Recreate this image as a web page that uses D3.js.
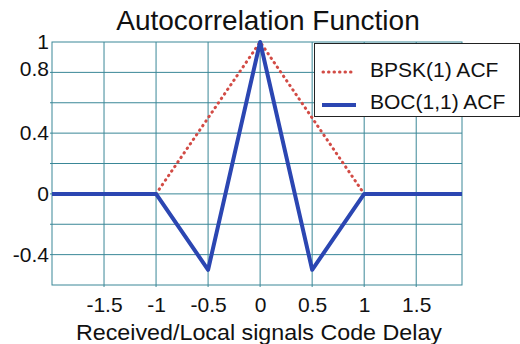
<!DOCTYPE html>
<html>
<head>
<meta charset="utf-8">
<script src="https://cdn.jsdelivr.net/npm/d3@7"></script>
<style>
  body { margin: 0; background: #fff; }
  text { font-family: "Liberation Sans", Arial, sans-serif; fill: #111; }
</style>
</head>
<body>
<script>
// data
var bpskX = [-1, 0, 1];
var bpskY = [0, 1, 0];
var bocX = [-2, -1, -0.5, 0, 0.5, 1, 1.94];
var bocY = [0, 0, -0.5, 1, -0.5, 0, 0];
var xTicks = [-1.5, -1, -0.5, 0, 0.5, 1, 1.5];
var xGrid = [-1.5, -1, -0.5, 0, 0.5, 1, 1.5];
var yTicks = [1, 0.8, 0.4, 0, -0.4];
var yGrid = [-0.4, -0.2, 0, 0.2, 0.4, 0.6, 0.8];
var seriesNames = ['BPSK(1) ACF', 'BOC(1,1) ACF'];

var margin = { top: 42, bottom: 59, left: 52, right: 58 };
var width = 520 - margin.left - margin.right;
var height = 344 - margin.top - margin.bottom;

let svg = d3.select('body').append('svg')
    .attr('width', 520)
    .attr('height', 344);

let g = svg.append('g')
    .attr('transform', 'translate(' + margin.left + ',' + margin.top + ')');

let xScale = d3.scaleLinear()
    .domain([-2, 1.94])
    .range([0, width]);

let yScale = d3.scaleLinear()
    .domain([-0.6, 1])
    .range([height, 0]);

var gridColor = '#3a8797';

// grid
xGrid.forEach(function (v) {
    g.append('line')
        .attr('x1', xScale(v)).attr('x2', xScale(v))
        .attr('y1', 0).attr('y2', height + 2)
        .style('stroke', gridColor).attr('stroke-width', 1);
});
yGrid.forEach(function (v) {
    g.append('line')
        .attr('x1', -2).attr('x2', width)
        .attr('y1', yScale(v)).attr('y2', yScale(v))
        .style('stroke', gridColor).attr('stroke-width', 1);
});

// frame
g.append('rect')
    .attr('width', width).attr('height', height)
    .attr('fill', 'none')
    .style('stroke', gridColor).attr('stroke-width', 1);

// axes (labels only)
var fmt = function (d) { return String(d); };
let xAxis = d3.axisBottom(xScale).tickValues(xTicks).tickSize(0).tickPadding(12)
    .tickFormat(fmt);
let yAxis = d3.axisLeft(yScale).tickValues(yTicks).tickSize(0).tickPadding(3)
    .tickFormat(fmt);

let xa = g.append('g')
    .attr('transform', 'translate(0,' + height + ')')
    .call(xAxis);
let ya = g.append('g').call(yAxis);
[xa, ya].forEach(function (a) {
    a.select('.domain').remove();
    a.selectAll('text').style('font-size', '21px').style('font-family', '"Liberation Sans", Arial, sans-serif').attr('fill', '#111');
});
// 0.8 label sits a bit higher to clear the 1
ya.selectAll('.tick text').filter(function (d) { return d === 0.8; }).attr('y', -4);

let line = d3.line()
    .x(function (d) { return xScale(d[0]); })
    .y(function (d) { return yScale(d[1]); });

g.append('path')
    .datum(d3.zip(bpskX, bpskY))
    .attr('d', line)
    .attr('fill', 'none')
    .style('stroke', '#d24b45')
    .attr('stroke-width', 3)
    .attr('stroke-linecap', 'round')
    .attr('stroke-dasharray', '0.5,5');

g.append('path')
    .datum(d3.zip(bocX, bocY))
    .attr('d', line)
    .attr('fill', 'none')
    .style('stroke', '#2b46b2')
    .attr('stroke-width', 4)
    .attr('stroke-linejoin', 'round');

// title
svg.append('text')
    .attr('x', 268).attr('y', 30)
    .attr('text-anchor', 'middle')
    .style('font-size', '28px')
    .text('Autocorrelation Function');

// x label
svg.append('text')
    .attr('x', 259).attr('y', 340)
    .attr('text-anchor', 'middle')
    .attr('textLength', 366)
    .attr('lengthAdjust', 'spacingAndGlyphs')
    .style('font-size', '22px')
    .text('Received/Local signals Code Delay');

// legend
let lg = svg.append('g');
lg.append('rect')
    .attr('x', 314.5).attr('y', 43.5)
    .attr('width', 205).attr('height', 73)
    .attr('fill', '#fff')
    .style('stroke', '#222').attr('stroke-width', 1);
lg.append('line')
    .attr('x1', 323).attr('x2', 355).attr('y1', 72).attr('y2', 72)
    .style('stroke', '#d24b45').attr('stroke-width', 3)
    .attr('stroke-linecap', 'round')
    .attr('stroke-dasharray', '0.5,5');
lg.append('line')
    .attr('x1', 322).attr('x2', 356).attr('y1', 105).attr('y2', 105)
    .style('stroke', '#2b46b2').attr('stroke-width', 4);
lg.append('text').attr('x', 370).attr('y', 77).style('font-size', '21px').text(seriesNames[0]);
lg.append('text').attr('x', 370).attr('y', 109).style('font-size', '21px').text(seriesNames[1]);
</script>
</body>
</html>
